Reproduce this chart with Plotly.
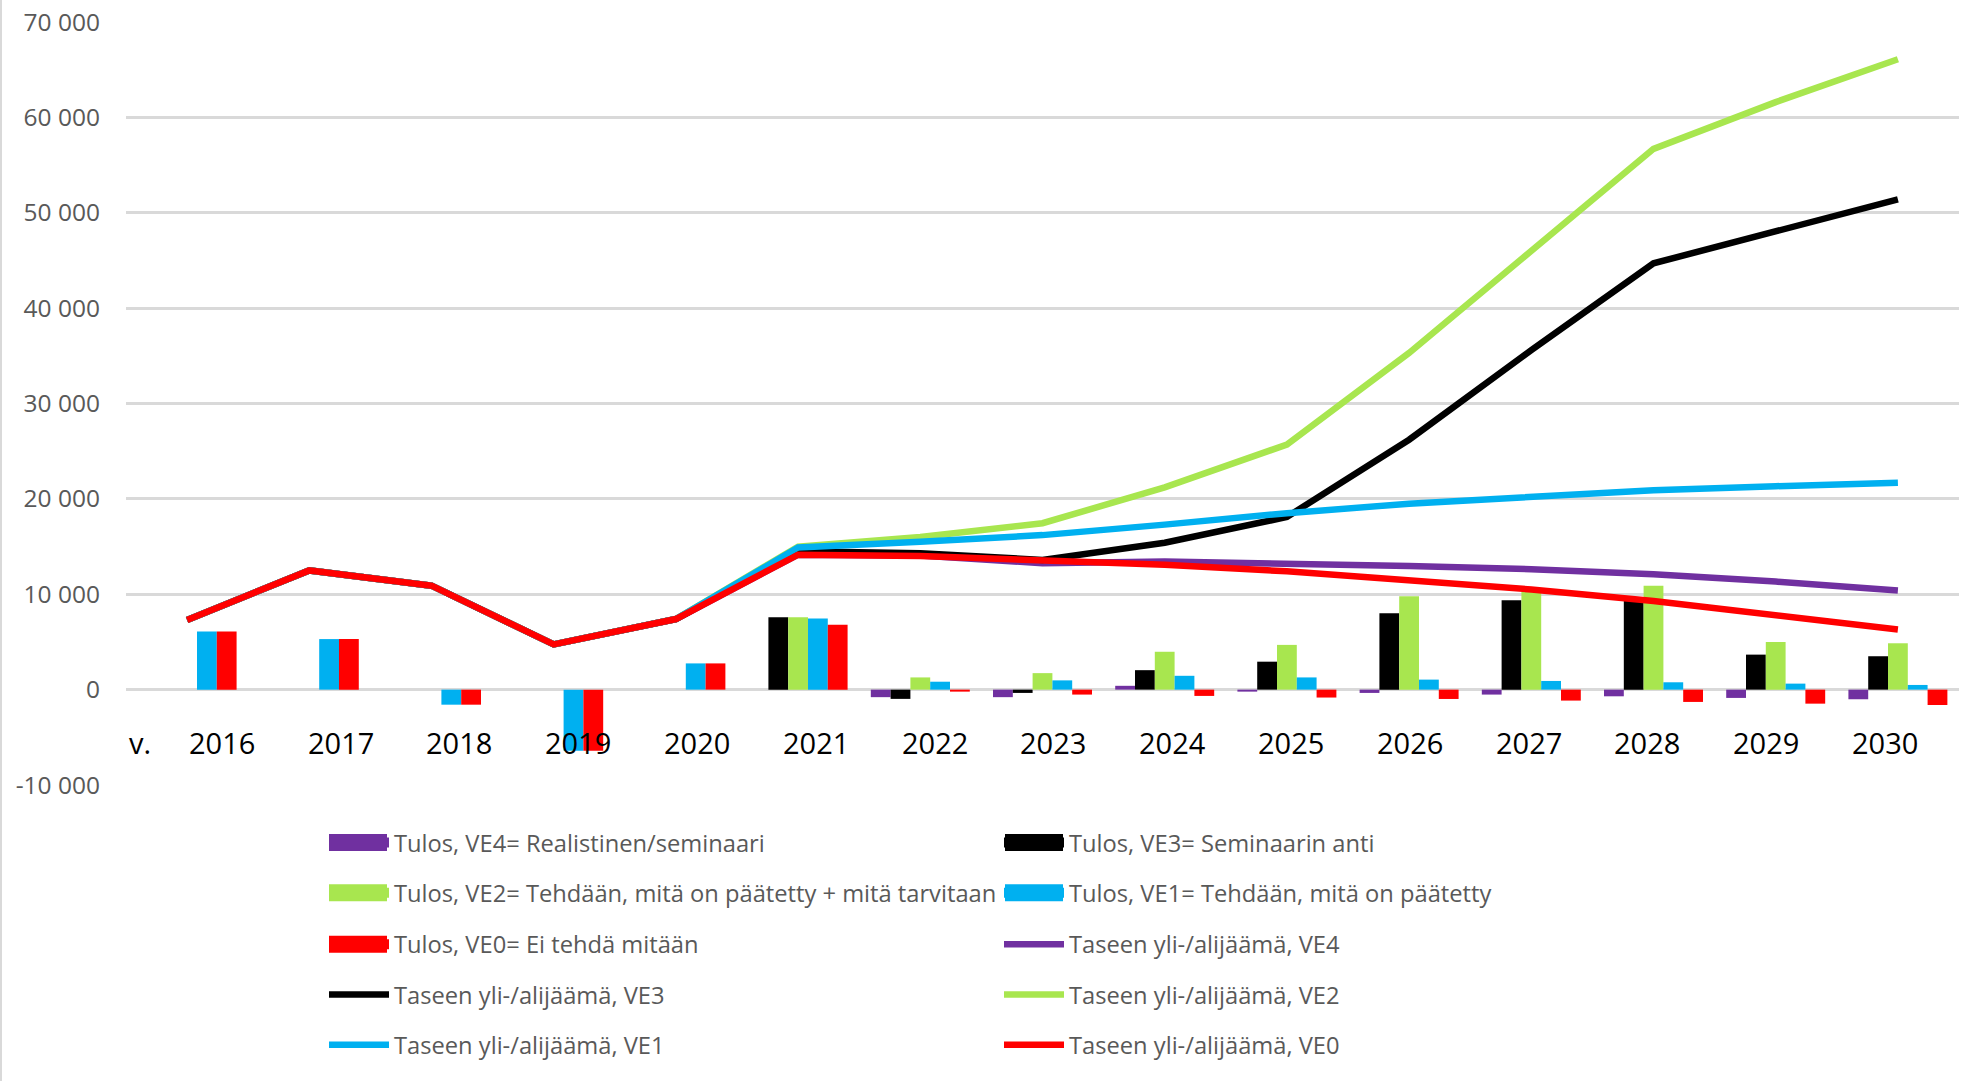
import plotly.graph_objects as go

# ---------------- data ----------------
years = ["2016", "2017", "2018", "2019", "2020", "2021", "2022", "2023",
         "2024", "2025", "2026", "2027", "2028", "2029", "2030"]
row_label = "v."

tulos_ve4 = [None, None, None, None, None, None, -790, -790, 400, -210, -345, -520, -700, -870, -1010]
tulos_ve3 = [None, None, None, None, None, 7600, -970, -345, 2040, 2930, 8000, 9370, 9550, 3670, 3500]
tulos_ve2 = [None, None, None, None, None, 7600, 1280, 1730, 3970, 4690, 9800, 10650, 10900, 5000, 4860]
tulos_ve1 = [6100, 5300, -1580, -6400, 2750, 7450, 830, 970, 1450, 1280, 1050, 910, 770, 630, 490]
tulos_ve0 = [6100, 5300, -1580, -6400, 2750, 6800, -210, -520, -660, -830, -980, -1150, -1290, -1470, -1610]

tase_ve4 = [7300, 12500, 10900, 4750, 7400, 14150, 14050, 13250, 13430, 13250, 12950, 12620, 12100, 11330, 10390]
tase_ve3 = [7300, 12500, 10900, 4750, 7400, 14500, 14300, 13600, 15400, 18100, 26200, 35600, 44700, 48100, 51400]
tase_ve2 = [7300, 12500, 10900, 4750, 7400, 15000, 16000, 17450, 21200, 25700, 35300, 46000, 56700, 61600, 66100]
tase_ve1 = [7300, 12500, 10900, 4750, 7400, 14900, 15500, 16200, 17300, 18500, 19500, 20280, 20900, 21330, 21680]
tase_ve0 = [7300, 12500, 10900, 4750, 7400, 14150, 14000, 13550, 13100, 12400, 11500, 10500, 9300, 7880, 6300]

bar_names = ["Tulos, VE4= Realistinen/seminaari",
             "Tulos, VE3= Seminaarin anti",
             "Tulos, VE2= Tehdään, mitä on päätetty + mitä tarvitaan",
             "Tulos, VE1= Tehdään, mitä on päätetty",
             "Tulos, VE0= Ei tehdä mitään"]
line_names = ["Taseen yli-/alijäämä, VE4",
              "Taseen yli-/alijäämä, VE3",
              "Taseen yli-/alijäämä, VE2",
              "Taseen yli-/alijäämä, VE1",
              "Taseen yli-/alijäämä, VE0"]

y_ticks = [-10000, 0, 10000, 20000, 30000, 40000, 50000, 60000, 70000]

# ---------------- styling ----------------
series_colors = ["#7030A0", "#000000", "#A8E64F", "#00B0F0", "#FF0000"]
W, H = 1969, 1081
L, R, T, B = 126, 10, 22, 296
plot_w = W - L - R
plot_h = H - T - B
cat_step = plot_w / len(years)
grid_col = "#D9D9D9"
txt_grey = "#595959"
FONT = "Open Sans"


def py_to_paper(py):
    return (H - B - py) / plot_h


def px_to_paper(px):
    return (px - L) / plot_w


bar_values = [tulos_ve4, tulos_ve3, tulos_ve2, tulos_ve1, tulos_ve0]
line_values = [tase_ve4, tase_ve3, tase_ve2, tase_ve1, tase_ve0]

legend_ids = ["legend", "legend2", "legend3", "legend4", "legend5"]

fig = go.Figure()

# bars (no own legend entries)
for vals, col, name in zip(bar_values, series_colors, bar_names):
    fig.add_trace(go.Bar(x=years, y=vals, name=name, marker=dict(color=col, line=dict(width=0)),
                         showlegend=False))

# legend entries for bars
entry = 0
for col, name in zip(series_colors, bar_names):
    fig.add_trace(go.Scatter(x=[None], y=[None], mode="lines", name=name,
                             line=dict(color=col, width=10),
                             legend=legend_ids[entry // 2], showlegend=True))
    entry += 1

# lines
for vals, col, name in zip(line_values, series_colors, line_names):
    fig.add_trace(go.Scatter(x=years, y=vals, mode="lines", name=name,
                             line=dict(color=col, width=6.5),
                             legend=legend_ids[entry // 2], showlegend=True))
    entry += 1

# legends: one per row, two columns
row_py = [842.6, 892.8, 944.3, 994.5, 1044.8]
col_px = [329, 1005]
sym_len = 58
legend_layouts = {}
for lid, rp in zip(legend_ids, row_py):
    legend_layouts[lid] = dict(
        orientation="h", x=px_to_paper(col_px[0] - 5), xanchor="left",
        y=py_to_paper(rp), yanchor="middle",
        entrywidth=676 - 76, entrywidthmode="pixels",
        itemwidth=60, font=dict(family=FONT, size=23.7, color=txt_grey),
        bgcolor="rgba(0,0,0,0)", borderwidth=0, tracegroupgap=0,
        traceorder="normal",
    )

# taller rectangles behind the bar legend symbols (Excel-like keys)
shapes = [dict(type="line", xref="paper", yref="paper",
               x0=px_to_paper(1), x1=px_to_paper(1),
               y0=py_to_paper(0), y1=py_to_paper(H),
               line=dict(color=grid_col, width=2))]
for k, col in enumerate(series_colors):
    rp = row_py[k // 2]
    cx = col_px[k % 2]
    shapes.append(dict(type="rect", xref="paper", yref="paper", layer="above",
                       x0=px_to_paper(cx), x1=px_to_paper(cx + sym_len),
                       y0=py_to_paper(rp + 8.5), y1=py_to_paper(rp - 8.5),
                       fillcolor=col, line=dict(width=0)))

# year labels (row of text under the zero line)
annotations = []
label_first_px = 221.7
label_step_px = 118.8
first_cat_px = L + 0.5 * cat_step
for i, yr in enumerate(years):
    xv = (label_first_px - first_cat_px) / cat_step + i * label_step_px / cat_step
    annotations.append(dict(x=xv, y=py_to_paper(742.5), xref="x", yref="paper",
                            text=yr, showarrow=False, xanchor="center", yanchor="middle",
                            font=dict(family=FONT, size=29, color="#000000")))
annotations.append(dict(x=(140 - first_cat_px) / cat_step, y=py_to_paper(742.5), xref="x", yref="paper",
                        text=row_label, showarrow=False, xanchor="center", yanchor="middle",
                        font=dict(family=FONT, size=29, color="#000000")))

tick_text = [f"{v:,}".replace(",", " ") for v in y_ticks]

fig.update_layout(
    width=W, height=H,
    margin=dict(l=L, r=R, t=T, b=B, pad=0, autoexpand=False),
    paper_bgcolor="white", plot_bgcolor="white",
    barmode="group", bargap=0.19, bargroupgap=0,
    font=dict(family=FONT, color=txt_grey),
    annotations=annotations,
    shapes=shapes,
    **legend_layouts,
)
fig.update_xaxes(type="category", range=[-0.5, len(years) - 0.5],
                 showticklabels=False, showgrid=False, zeroline=False,
                 showline=False, ticks="")
fig.update_yaxes(range=[-10000, 70000], tickvals=y_ticks, ticktext=tick_text,
                 showgrid=True, gridcolor=grid_col, gridwidth=2.5,
                 zeroline=True, zerolinecolor=grid_col, zerolinewidth=2.5,
                 showline=False, ticks="", ticklabelstandoff=25,
                 tickfont=dict(family=FONT, size=24.5, color=txt_grey))

fig.write_html("out.html", config={"displayModeBar": False},
               post_script="document.body.style.margin='0';document.body.style.padding='0';")
